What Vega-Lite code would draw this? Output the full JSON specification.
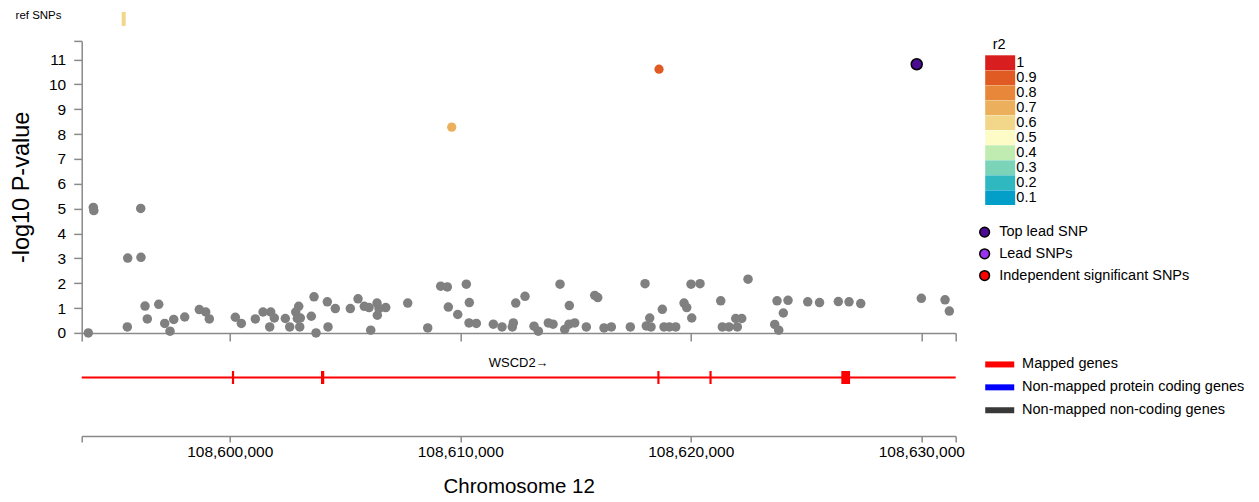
{
  "$schema": "https://vega.github.io/schema/vega-lite/v6.json",
  "padding": {"left": 8.7, "top": 8.9, "right": 5, "bottom": 5},
  "spacing": 15,
  "bounds": "flush",
  "resolve": {"scale": {"color": "independent", "fill": "independent"}},
  "config": {
    "font": "Liberation Sans",
    "view": {"stroke": null},
    "axis": {"domainColor": "#8a8a8a", "tickColor": "#8a8a8a", "domainWidth": 1.5, "tickWidth": 1.5, "labelColor": "#000", "titleColor": "#000", "labelFontSize": 15.5, "titleFontSize": 20.5, "titleFontWeight": "normal", "grid": false},
    "legend": {"labelFontSize": 14.5, "labelColor": "#000", "labelLimit": 400, "titleFontSize": 14.5, "titleFontWeight": "normal", "titleColor": "#000"}
  },
  "datasets": {
    "ref": [{"track": "ref SNPs", "pos": 108595400, "r2": 0.6}],
    "snps": [
      {"pos": 108593866, "logp": 0.00}, {"pos": 108594083, "logp": 5.05}, {"pos": 108594105, "logp": 4.92},
      {"pos": 108595575, "logp": 3.01}, {"pos": 108595558, "logp": 0.24}, {"pos": 108596139, "logp": 5.01},
      {"pos": 108596150, "logp": 3.04}, {"pos": 108596326, "logp": 1.08}, {"pos": 108596425, "logp": 0.56},
      {"pos": 108596920, "logp": 1.15}, {"pos": 108597180, "logp": 0.38}, {"pos": 108597410, "logp": 0.07},
      {"pos": 108597571, "logp": 0.54}, {"pos": 108598048, "logp": 0.64}, {"pos": 108598681, "logp": 0.94},
      {"pos": 108598959, "logp": 0.84}, {"pos": 108599115, "logp": 0.56}, {"pos": 108600243, "logp": 0.63},
      {"pos": 108600503, "logp": 0.38}, {"pos": 108601111, "logp": 0.56}, {"pos": 108601445, "logp": 0.84},
      {"pos": 108601735, "logp": 0.24}, {"pos": 108601779, "logp": 0.84}, {"pos": 108601935, "logp": 0.60},
      {"pos": 108602412, "logp": 0.58}, {"pos": 108602603, "logp": 0.24}, {"pos": 108602863, "logp": 0.84},
      {"pos": 108602993, "logp": 1.07}, {"pos": 108602933, "logp": 0.58}, {"pos": 108603063, "logp": 0.60},
      {"pos": 108603037, "logp": 0.24}, {"pos": 108603540, "logp": 0.67}, {"pos": 108603657, "logp": 1.45},
      {"pos": 108603744, "logp": 0.00}, {"pos": 108604234, "logp": 1.25}, {"pos": 108604264, "logp": 0.24},
      {"pos": 108604581, "logp": 0.98}, {"pos": 108605232, "logp": 0.98}, {"pos": 108605566, "logp": 1.37},
      {"pos": 108605839, "logp": 1.07}, {"pos": 108606043, "logp": 1.02}, {"pos": 108606117, "logp": 0.11},
      {"pos": 108606390, "logp": 1.20}, {"pos": 108606403, "logp": 0.71}, {"pos": 108606477, "logp": 0.98},
      {"pos": 108606767, "logp": 1.02}, {"pos": 108607722, "logp": 1.20}, {"pos": 108608589, "logp": 0.20},
      {"pos": 108609153, "logp": 1.88}, {"pos": 108609440, "logp": 1.85}, {"pos": 108609483, "logp": 1.04},
      {"pos": 108609891, "logp": 0.74}, {"pos": 108610264, "logp": 1.96}, {"pos": 108610394, "logp": 1.22},
      {"pos": 108610381, "logp": 0.40}, {"pos": 108610698, "logp": 0.38}, {"pos": 108611435, "logp": 0.35},
      {"pos": 108611812, "logp": 0.24}, {"pos": 108612259, "logp": 0.24}, {"pos": 108612303, "logp": 0.40},
      {"pos": 108612407, "logp": 1.20}, {"pos": 108612810, "logp": 1.47}, {"pos": 108613201, "logp": 0.27},
      {"pos": 108613387, "logp": 0.07}, {"pos": 108613821, "logp": 0.40}, {"pos": 108614025, "logp": 0.35},
      {"pos": 108614328, "logp": 1.96}, {"pos": 108614532, "logp": 0.14}, {"pos": 108614732, "logp": 1.10},
      {"pos": 108614719, "logp": 0.35}, {"pos": 108614966, "logp": 0.40}, {"pos": 108615469, "logp": 0.24},
      {"pos": 108615834, "logp": 1.51}, {"pos": 108615964, "logp": 1.42}, {"pos": 108616237, "logp": 0.20},
      {"pos": 108616554, "logp": 0.24}, {"pos": 108617378, "logp": 0.24}, {"pos": 108618016, "logp": 1.98},
      {"pos": 108618072, "logp": 0.28}, {"pos": 108618220, "logp": 0.60}, {"pos": 108618276, "logp": 0.24},
      {"pos": 108618766, "logp": 0.95}, {"pos": 108618840, "logp": 0.24}, {"pos": 108619070, "logp": 0.24},
      {"pos": 108619347, "logp": 0.24}, {"pos": 108619708, "logp": 1.20}, {"pos": 108619825, "logp": 1.02},
      {"pos": 108620011, "logp": 1.96}, {"pos": 108620042, "logp": 0.60}, {"pos": 108620402, "logp": 1.98},
      {"pos": 108621300, "logp": 1.29}, {"pos": 108621369, "logp": 0.24}, {"pos": 108621660, "logp": 0.24},
      {"pos": 108621950, "logp": 0.58}, {"pos": 108622211, "logp": 0.58}, {"pos": 108622020, "logp": 0.24},
      {"pos": 108622484, "logp": 2.16}, {"pos": 108623642, "logp": 0.34}, {"pos": 108623816, "logp": 0.11},
      {"pos": 108623742, "logp": 1.29}, {"pos": 108624015, "logp": 0.80}, {"pos": 108624219, "logp": 1.31},
      {"pos": 108625074, "logp": 1.25}, {"pos": 108625586, "logp": 1.22}, {"pos": 108626401, "logp": 1.26},
      {"pos": 108626865, "logp": 1.25}, {"pos": 108627373, "logp": 1.18}, {"pos": 108630002, "logp": 1.39},
      {"pos": 108631030, "logp": 1.33}, {"pos": 108631216, "logp": 0.88},
      {"pos": 108609630, "logp": 8.28, "r2": 0.7},
      {"pos": 108618623, "logp": 10.61, "r2": 0.9},
      {"pos": 108629802, "logp": 10.81, "r2": 1, "lead": "Top lead SNP"}
    ],
    "genes": [{"gene": "WSCD2", "label": "WSCD2→", "type": "Mapped genes", "start": 108520000, "end": 108650000}],
    "exons": [
      {"gene": "WSCD2", "type": "Mapped genes", "start": 108600095, "end": 108600190},
      {"gene": "WSCD2", "type": "Mapped genes", "start": 108603960, "end": 108604100},
      {"gene": "WSCD2", "type": "Mapped genes", "start": 108618550, "end": 108618645},
      {"gene": "WSCD2", "type": "Mapped genes", "start": 108620810, "end": 108620905},
      {"gene": "WSCD2", "type": "Mapped genes", "start": 108626530, "end": 108626910}
    ]
  },
  "vconcat": [
    {
      "width": 874, "height": 14,
      "data": {"name": "ref"},
      "mark": {"type": "tick", "thickness": 4, "size": 14, "opacity": 1},
      "encoding": {
        "x": {"field": "pos", "type": "quantitative", "scale": {"domain": [108593579, 108631492], "nice": false, "zero": false}, "axis": null},
        "y": {"field": "track", "type": "nominal", "title": null, "axis": {"domain": false, "ticks": false, "labelFontSize": 11.5, "labelPadding": 20.7, "labelOffset": -3}},
        "color": {"field": "r2", "type": "ordinal", "scale": {"domain": [1, 0.9, 0.8, 0.7, 0.6, 0.5, 0.4, 0.3, 0.2, 0.1], "range": ["#d81e1e", "#e05a24", "#e8863a", "#ecaf5c", "#f2d78a", "#fefcc6", "#c0ecb2", "#7cd4b8", "#30b8c0", "#039fc8"]}, "legend": null}
      }
    },
    {
      "width": 874, "height": 292,
      "data": {"name": "snps"},
      "encoding": {
        "x": {"field": "pos", "type": "quantitative", "scale": {"domain": [108593579, 108631492], "nice": false, "zero": false},
              "axis": {"values": [108593579, 108600000, 108610000, 108620000, 108630000, 108631492], "labels": false, "tickSize": 8, "title": null}},
        "y": {"field": "logp", "type": "quantitative", "scale": {"domain": [0, 11.75], "nice": false, "zero": false},
              "axis": {"values": [0, 1, 2, 3, 4, 5, 6, 7, 8, 9, 10, 11, 11.75], "labelExpr": "datum.value > 11.5 ? '' : datum.label", "tickSize": 8, "labelPadding": 8, "title": "-log10 P-value", "titleFontSize": 23.5, "titleX": -60.7, "titleY": 146, "titleAngle": -90, "titleAlign": "center", "titleBaseline": "middle"}}
      },
      "layer": [
        {"transform": [{"filter": "!isValid(datum.r2)"}], "mark": {"type": "circle", "size": 90, "opacity": 1, "color": "#808080"}},
        {"transform": [{"filter": "isValid(datum.r2) && !isValid(datum.lead)"}], "mark": {"type": "circle", "size": 85, "opacity": 1},
         "encoding": {"color": {"field": "r2", "type": "ordinal",
           "scale": {"domain": [1, 0.9, 0.8, 0.7, 0.6, 0.5, 0.4, 0.3, 0.2, 0.1], "range": ["#d81e1e", "#e05a24", "#e8863a", "#ecaf5c", "#f2d78a", "#fefcc6", "#c0ecb2", "#7cd4b8", "#30b8c0", "#039fc8"]},
           "legend": {"title": "r2", "orient": "none", "direction": "vertical", "legendX": 911, "legendY": -3, "titlePadding": 2.75, "titleAnchor": "start", "symbolType": "M-2.04,-1H2.04V1H-2.04Z", "symbolSize": 216, "symbolStrokeWidth": 0, "labelOffset": 8.65, "rowPadding": -1.3}}}},
        {"transform": [{"filter": "isValid(datum.lead)"}], "mark": {"type": "circle", "size": 120, "opacity": 1, "stroke": "#000", "strokeWidth": 1.5},
         "encoding": {"fill": {"field": "lead", "type": "nominal",
           "scale": {"domain": ["Top lead SNP", "Lead SNPs", "Independent significant SNPs"], "range": ["#4b0b92", "#9a32f0", "#ff0000"]},
           "legend": {"title": null, "orient": "none", "direction": "vertical", "legendX": 895.7, "legendY": 184.0, "symbolType": "circle", "symbolSize": 95, "symbolStrokeColor": "#000", "symbolStrokeWidth": 1.5, "labelOffset": 7.35, "rowPadding": 4.7}}}}
      ]
    },
    {
      "width": 874, "height": 88,
      "layer": [
        {"data": {"name": "genes"}, "mark": {"type": "rect", "clip": true},
         "encoding": {
           "x": {"field": "start", "type": "quantitative", "scale": {"domain": [108593579, 108631492], "nice": false, "zero": false},
                 "axis": {"values": [108593579, 108600000, 108610000, 108620000, 108630000, 108631492], "labelExpr": "(datum.value < 108595000 || datum.value > 108631000) ? '' : format(datum.value, ',')", "tickSize": 6, "labelPadding": 2.5, "title": "Chromosome 12", "titlePadding": 17}},
           "x2": {"field": "end"},
           "y": {"datum": 57.4, "type": "quantitative", "scale": {"domain": [0, 88], "nice": false, "zero": false}, "axis": null},
           "y2": {"datum": 59.4},
           "color": {"field": "type", "type": "nominal",
             "scale": {"domain": ["Mapped genes", "Non-mapped protein coding genes", "Non-mapped non-coding genes"], "range": ["#ff0000", "#0000ff", "#383838"]},
             "legend": {"title": null, "orient": "none", "direction": "vertical", "legendX": 910.8, "legendY": 9.3, "symbolType": "M-4.833,-1H4.833V1H-4.833Z", "symbolSize": 36, "symbolStrokeWidth": 0, "labelOffset": 15.1, "rowPadding": 7.9}}
         }},
        {"data": {"name": "exons"}, "mark": {"type": "rect"},
         "encoding": {
           "x": {"field": "start", "type": "quantitative"},
           "x2": {"field": "end"},
           "y": {"datum": 51.9, "type": "quantitative"},
           "y2": {"datum": 64.9},
           "color": {"field": "type", "type": "nominal"}
         }},
        {"data": {"name": "genes"}, "mark": {"type": "text", "fontSize": 13, "baseline": "middle", "align": "center", "color": "#000"},
         "encoding": {
           "x": {"datum": 108612535, "type": "quantitative"},
           "y": {"datum": 72.4, "type": "quantitative"},
           "text": {"field": "label"}
         }}
      ]
    }
  ]
}
